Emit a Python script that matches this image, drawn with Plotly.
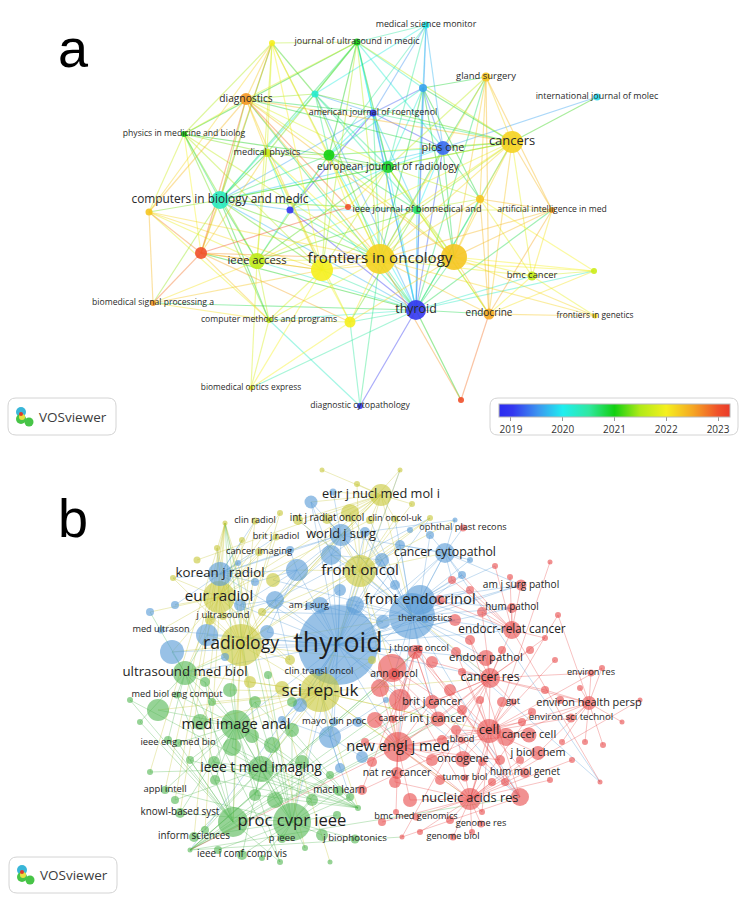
import plotly.graph_objects as go
from plotly.colors import sample_colorscale

W, H = 745, 910
FONT = "Open Sans"

# ---------------- panel a: overlay map, colour = average publication year ----------------
A_LABEL = ["medical science monitor", "", "journal of ultrasound in medic", "gland surgery", "", "",
           "diagnostics", "international journal of molec", "american journal of roentgenol",
           "physics in medicine and biolog", "cancers", "plos one", "medical physics", "",
           "european journal of radiology", "computers in biology and medic", "", "", "", "",
           "ieee journal of biomedical and", "artificial intelligence in med", "", "ieee access", "",
           "frontiers in oncology", "", "bmc cancer", "", "biomedical signal processing a", "thyroid",
           "endocrine", "frontiers in genetics", "computer methods and programs", "",
           "biomedical optics express", "diagnostic cytopathology", ""]
A_X = [426, 272, 357, 486, 315, 423, 246, 597, 373, 184, 512, 443, 267, 329, 388, 220, 480, 149, 290, 348,
       417, 552, 201, 257, 322, 380, 454, 532, 594, 153, 416, 489, 595, 269, 350, 251, 360, 461]
A_Y = [25, 43, 42, 77, 94, 88, 99, 97, 113, 134, 142, 148, 153, 155, 167, 200, 199, 212, 210, 207,
       210, 210, 253, 261, 270, 259, 257, 276, 271, 303, 310, 314, 316, 320, 322, 388, 406, 400]
A_W = [7, 6, 7, 9, 7, 8, 12, 7, 7, 6, 22, 14, 8, 11, 12, 18, 8, 7, 7, 6,
       8, 6, 12, 16, 22, 30, 26, 9, 6, 6, 20, 11, 5, 6, 11, 5, 6, 6]
A_YEAR = [2020.0, 2022.0, 2021.0, 2022.3, 2020.2, 2019.6, 2022.6, 2019.9, 2018.9, 2021.0,
          2022.2, 2019.3, 2021.7, 2021.0, 2020.9, 2020.3, 2022.3, 2022.3, 2019.0, 2023.0,
          2020.7, 2022.6, 2023.0, 2021.6, 2022.0, 2022.2, 2022.3, 2021.6, 2021.7, 2022.6,
          2019.0, 2022.5, 2022.2, 2021.6, 2022.0, 2022.0, 2019.0, 2023.0]
A_LINKS = [
    (30, [0, 2, 3, 4, 5, 6, 8, 10, 11, 12, 13, 14, 15, 16, 18, 20, 21, 22, 23, 24, 25, 26, 27, 28, 29,
          31, 33, 34, 35, 36, 37]),
    (25, [1, 2, 3, 4, 5, 6, 8, 9, 10, 11, 12, 13, 14, 15, 16, 17, 18, 20, 21, 22, 23, 24, 26, 27, 28,
          31, 32, 33, 34, 36, 37]),
    (26, [3, 5, 6, 10, 11, 13, 14, 16, 20, 21, 24, 27, 28, 31, 32, 34]),
    (10, [2, 3, 4, 5, 6, 7, 8, 11, 13, 14, 15, 16, 20, 21, 23, 24, 27, 31]),
    (24, [1, 2, 6, 9, 12, 13, 14, 15, 17, 22, 23, 29, 33, 34, 35]),
    (15, [1, 2, 4, 6, 8, 9, 11, 12, 13, 14, 17, 18, 19, 20, 22, 23, 29, 33]),
    (23, [1, 9, 12, 13, 14, 17, 18, 20, 22, 29, 33, 35]),
    (6, [1, 2, 4, 8, 9, 11, 12, 13, 14, 17, 19, 22]),
    (14, [0, 2, 3, 4, 5, 8, 11, 12, 13, 16, 18, 20]),
    (11, [0, 2, 3, 5, 7, 8, 13, 16, 20]),
    (2, [0, 1, 4, 5, 8, 9, 12, 13]),
    (22, [1, 9, 12, 17, 19, 29, 33]),
    (34, [12, 20, 22, 33, 35, 36]),
    (31, [3, 14, 16, 20, 21, 27, 28, 32, 37]),
    (27, [16, 21, 28, 32]),
    (0, [4, 5, 8, 13]),
    (3, [5, 16, 21]),
    (12, [1, 9, 13, 18]),
    (19, [13, 14]),
    (1, [4, 9, 13]),
    (36, [33]),
    (13, [4, 5, 8, 9, 18, 20]),
    (20, [4, 5, 8, 16, 18, 21]),
    (33, [9, 15, 17, 29, 35]),
    (17, [1, 9, 29]),
    (16, [5, 21, 28]),
    (8, [4, 5, 18]),
]
YEAR_TICKS = [2019, 2020, 2021, 2022, 2023]
YEAR_MIN, YEAR_MAX = 2018.77, 2023.23

# ---------------- panel b: cluster map ----------------
B_LABEL = ["thyroid", "radiology", "front oncol", "front endocrinol", "eur radiol", "korean j radiol",
           "world j surg", "eur j nucl med mol i", "cancer cytopathol", "sci rep-uk",
           "ultrasound med biol", "med image anal", "ieee t med imaging", "proc cvpr ieee",
           "new engl j med", "nucleic acids res", "cell", "cancer res", "endocr-relat cancer",
           "endocr pathol", "environ health persp", "int j cancer", "brit j cancer", "oncogene",
           "j biol chem", "cancer cell", "am j surg pathol", "hum pathol", "theranostics",
           "j thorac oncol", "ann oncol", "clin transl oncol", "mayo clin proc", "cancer", "blood",
           "nat rev cancer", "tumor biol", "hum mol genet", "bmc med genomics", "genome res",
           "genome biol", "gut", "environ sci technol", "environ res", "am j surg", "j ultrasound",
           "med ultrason", "med biol eng comput", "ieee eng med bio", "appl intell", "mach learn",
           "knowl-based syst", "inform sciences", "p ieee", "j biophotonics", "ieee i conf comp vis",
           "clin radiol", "int j radiat oncol", "clin oncol-uk", "ophthal plast recons",
           "brit j radiol", "cancer imaging"]
B_X = [338, 241, 360, 420, 219, 220, 341, 381, 445, 320, 185, 236, 261, 292, 398, 470, 489, 490, 512, 486,
       589, 438, 432, 463, 538, 529, 521, 512, 425, 419, 394, 319, 334, 393, 462, 397, 465, 525, 416, 481,
       453, 513, 571, 591, 309, 223, 161, 177, 178, 165, 339, 180, 194, 282, 355, 242, 255, 327, 395, 463,
       276, 259]
B_Y = [645, 645, 571, 600, 597, 574, 535, 495, 553, 692, 673, 725, 769, 822, 747, 799, 731, 678, 630, 658,
       703, 719, 702, 759, 753, 735, 585, 608, 619, 649, 674, 672, 722, 719, 740, 773, 778, 773, 817, 824,
       837, 702, 718, 673, 606, 616, 630, 695, 743, 790, 791, 813, 837, 839, 839, 855, 521, 519, 519, 528,
       537, 552]
B_W = [80, 42, 32, 30, 32, 24, 22, 22, 20, 40, 24, 30, 26, 38, 30, 22, 24, 20, 18, 16,
       14, 15, 14, 16, 14, 15, 11, 10, 8, 8, 12, 8, 8, 8, 7, 12, 7, 10, 7, 7,
       7, 7, 9, 7, 8, 8, 7, 7, 8, 8, 10, 10, 10, 8, 9, 10, 7, 10, 7, 7,
       7, 8]
B_CLUSTER = list("BYYBYBBYBY" "GGGGRRRRRR" "RRRRRRRRBR" "RBBRRRRRRR" "RRRRBYBGGG" "GGGGGGYYYR" "YY")

# unlabelled journals of each cluster
BLUE_X = [297, 331, 275, 267, 207, 172, 311, 333, 365, 382, 400, 290, 255, 240, 320, 355, 383, 300, 358, 340,
          362, 330, 395, 340, 462, 470, 238, 175, 150, 225, 386, 430, 282, 455, 410, 412]
BLUE_Y = [570, 555, 600, 632, 635, 652, 502, 492, 532, 560, 545, 550, 582, 605, 605, 605, 622, 705, 722, 768,
          757, 737, 585, 590, 575, 560, 563, 605, 612, 657, 700, 535, 720, 520, 530, 616]
BLUE_W = [22, 20, 18, 14, 22, 24, 13, 7, 10, 14, 10, 8, 8, 12, 16, 18, 14, 14, 10, 10,
          12, 22, 10, 12, 8, 6, 6, 8, 8, 8, 6, 8, 8, 5, 6, 46]
YELLOW_X = [350, 357, 412, 430, 273, 280, 242, 217, 173, 197, 322, 400, 250, 282, 372, 290, 210, 262, 298, 370,
            225]
YELLOW_Y = [513, 484, 504, 518, 580, 513, 540, 548, 578, 560, 470, 470, 682, 688, 660, 660, 620, 612, 520, 520,
            523]
YELLOW_W = [18, 6, 6, 6, 14, 6, 6, 6, 6, 7, 5, 5, 12, 14, 8, 10, 10, 8, 10, 8, 5]
GREEN_X = [233, 158, 200, 230, 255, 272, 292, 302, 312, 275, 255, 215, 190, 168, 140, 130, 150, 175, 205, 218,
           262, 322, 337, 350, 330, 305, 280, 205, 212, 292, 268, 358, 232, 214, 252, 330, 190]
GREEN_Y = [822, 710, 722, 690, 702, 745, 730, 762, 800, 800, 795, 780, 760, 740, 722, 700, 772, 800, 830, 850,
           858, 835, 815, 797, 775, 848, 862, 682, 702, 702, 675, 808, 747, 762, 736, 862, 850]
GREEN_W = [30, 22, 16, 14, 12, 16, 14, 14, 12, 16, 12, 10, 8, 8, 6, 6, 6, 8, 8, 8,
           6, 12, 8, 8, 8, 6, 6, 10, 8, 10, 8, 6, 18, 12, 14, 5, 5]
RED_X = [392, 520, 415, 400, 380, 375, 395, 410, 440, 432, 362, 450, 462, 470, 455, 440, 470, 482, 502, 530,
         545, 558, 560, 580, 602, 545, 555, 532, 520, 550, 572, 450, 472, 482, 505, 500, 442, 462, 506, 562,
         585, 603, 622, 640, 600, 452, 495, 510, 550, 382, 420, 402, 432, 456, 480, 502, 522, 456, 482, 492,
         396, 365, 372]
RED_Y = [668, 797, 652, 700, 688, 720, 782, 800, 780, 760, 790, 690, 710, 640, 620, 600, 590, 612, 650, 650,
         638, 615, 700, 688, 668, 690, 660, 712, 760, 780, 760, 820, 832, 812, 782, 760, 740, 672, 737, 742,
         742, 745, 722, 700, 782, 580, 566, 577, 562, 822, 832, 837, 662, 652, 700, 702, 722, 730, 762, 782,
         812, 742, 762]
RED_W = [28, 18, 14, 22, 18, 16, 12, 14, 10, 12, 10, 12, 10, 10, 12, 10, 8, 10, 8, 8,
         6, 6, 8, 6, 6, 8, 6, 8, 8, 6, 6, 8, 6, 6, 8, 10, 10, 8, 18, 6,
         6, 6, 5, 5, 5, 8, 6, 6, 5, 8, 6, 5, 12, 10, 8, 10, 8, 10, 8, 8,
         6, 8, 10]

# links: (journal index, linked journal indices); indices run over labelled, blue, yellow, green, red
# index 96 stands for the large blue journal drawn behind "front endocrinol"
B_LINKS = [
    (0, [1, 2, 3, 4, 5, 6, 8, 9, 10, 11, 12, 13, 14, 17, 18, 19, 21, 26, 27, 28, 31, 32, 44, 46, 62, 63, 64,
         65, 66, 67, 68, 70, 71, 76, 77, 78, 79, 83, 85, 97, 101, 109, 155, 157, 158, 159, 170, 96]),
    (96, [2, 8, 17, 18, 19, 26, 27, 28, 29, 71, 72, 84, 86, 157, 169, 170, 171, 172, 200, 21, 30, 14, 9]),
    (3, [8, 18, 26, 27, 28, 86, 87, 93, 171, 172, 201, 202]),
    (1, [2, 4, 5, 6, 7, 9, 10, 11, 12, 45, 56, 60, 61, 64, 66, 67, 75, 97, 101, 103, 104, 105, 106, 109, 110,
         112, 113, 114, 115, 119, 121, 122]),
    (2, [6, 7, 8, 9, 14, 17, 30, 57, 58, 62, 63, 70, 71, 72, 95, 97, 98, 99, 100, 101, 115, 116]),
    (4, [5, 7, 9, 10, 45, 46, 56, 60, 61, 66, 67, 88, 89, 90, 103, 104, 105, 106, 113, 117]),
    (9, [10, 11, 12, 13, 14, 15, 16, 17, 21, 31, 32, 79, 83, 94, 109, 110, 112, 120, 121, 122, 123, 124, 147,
         148, 150]),
    (13, [11, 12, 49, 50, 51, 52, 53, 54, 55, 118, 123, 125, 126, 127, 128, 138, 139, 140, 141, 142, 143, 144,
          149, 153]),
    (11, [10, 12, 47, 48, 49, 51, 118, 119, 120, 121, 122, 123, 124, 129, 130, 131, 145, 146, 150, 151, 152]),
    (12, [50, 52, 55, 118, 125, 126, 127, 128, 129, 134, 135, 136, 137, 150, 151, 152]),
    (14, [15, 16, 17, 21, 22, 23, 25, 30, 33, 35, 155, 158, 159, 160, 161, 162, 163, 164, 165, 191, 212, 216, 217]),
    (16, [15, 17, 20, 23, 24, 25, 37, 41, 42, 156, 166, 167, 177, 180, 182, 183, 189, 190, 193, 209, 210, 211, 213]),
    (15, [24, 37, 38, 39, 40, 156, 161, 162, 163, 183, 184, 185, 186, 187, 188, 189, 199, 204, 205, 206, 213,
          214, 215]),
    (17, [18, 19, 20, 21, 22, 23, 33, 41, 43, 168, 169, 173, 174, 175, 176, 181, 192, 193, 207, 208]),
    (20, [24, 42, 43, 177, 178, 179, 180, 181, 194, 195, 196, 197, 198]),
    (7, [6, 57, 58, 68, 69, 97, 98, 99, 100, 102, 107, 108, 115, 116, 117]),
    (5, [6, 56, 60, 61, 62, 73, 74, 88, 89, 104, 105, 106]),
    (6, [8, 57, 62, 63, 68, 69, 73, 95, 97, 115]),
    (8, [26, 59, 72, 86, 87, 93, 94, 95, 200, 201]),
    (10, [47, 66, 67, 90, 91, 119, 132, 133, 145, 146]),
    (18, [26, 27, 86, 171, 172, 173, 176, 200, 201, 202, 203]),
    (155, [21, 22, 29, 30, 33, 157, 158, 159, 168, 207]),
    (83, [31, 32, 79, 80, 81, 82, 92, 94, 142]),
    (118, [49, 51, 52, 135, 136, 137, 144, 154]),
    (62, [64, 65, 73, 74, 75]),
    (64, [44, 75, 101, 113, 114]),
    (76, [44, 77, 78, 85]),
    (77, [28, 78, 84, 157]),
    (119, [47, 48, 130, 131, 132, 133, 134, 145, 146]),
    (150, [123, 124, 125, 129, 130, 131, 151, 152]),
    (63, [6, 68, 70, 71, 97, 115]),
    (71, [2, 70, 72, 77, 84]),
    (158, [21, 22, 33, 159, 160, 166, 167, 191]),
    (157, [29, 30, 168, 169, 207]),
    (97, [57, 58, 98, 102, 115, 116, 117]),
]

CLUSTER_COLORS = {"B": (88, 155, 214), "Y": (200, 200, 58), "G": (84, 184, 84), "R": (232, 76, 76)}

CSCALE = [[0.0, "rgb(43,43,240)"], [0.06, "rgb(52,56,240)"], [0.17, "rgb(60,150,240)"],
          [0.276, "rgb(31,238,240)"], [0.39, "rgb(48,232,160)"], [0.5, "rgb(18,208,18)"],
          [0.61, "rgb(176,234,24)"], [0.724, "rgb(245,240,30)"], [0.84, "rgb(245,166,35)"],
          [0.948, "rgb(240,80,42)"], [1.0, "rgb(234,58,42)"]]


def rgba(rgb, a):
    if isinstance(rgb, str):
        return rgb.replace("rgb(", "rgba(").replace(")", f",{a})")
    return f"rgba({rgb[0]},{rgb[1]},{rgb[2]},{a})"


def rrect(x0, y0, x1, y1, r):
    return (f"M{x0 + r},{y0} L{x1 - r},{y0} Q{x1},{y0} {x1},{y0 + r} L{x1},{y1 - r} Q{x1},{y1} {x1 - r},{y1} "
            f"L{x0 + r},{y1} Q{x0},{y1} {x0},{y1 - r} L{x0},{y0 + r} Q{x0},{y0} {x0 + r},{y0} Z")


fig = go.Figure()

# ---- panel a links, coloured by mean year of the two journals
seen = set()
groups = {}
for hub, targets in A_LINKS:
    for t in targets:
        key = tuple(sorted((hub, t)))
        if key in seen or hub == t:
            continue
        seen.add(key)
        yr = round((A_YEAR[key[0]] + A_YEAR[key[1]]) / 2, 1)
        groups.setdefault(yr, []).append(key)
for yr, pairs in sorted(groups.items()):
    xs, ys = [], []
    for i, j in pairs:
        xs += [A_X[i], A_X[j], None]
        ys += [A_Y[i], A_Y[j], None]
    col = sample_colorscale(CSCALE, [(yr - YEAR_MIN) / (YEAR_MAX - YEAR_MIN)])[0]
    fig.add_trace(go.Scatter(x=xs, y=ys, mode="lines", line=dict(color=rgba(col, 0.42), width=1.2),
                             hoverinfo="skip"))

order = sorted(range(len(A_X)), key=lambda i: -A_W[i])
fig.add_trace(go.Scatter(
    x=[A_X[i] for i in order], y=[A_Y[i] for i in order], mode="markers", hoverinfo="skip",
    marker=dict(size=[A_W[i] for i in order], color=[A_YEAR[i] for i in order], coloraxis="coloraxis",
                opacity=0.9, line=dict(width=0))))
lab = [i for i in range(len(A_X)) if A_LABEL[i]]
fig.add_trace(go.Scatter(
    x=[A_X[i] for i in lab], y=[A_Y[i] for i in lab], mode="text", text=[A_LABEL[i] for i in lab],
    textposition="middle center", hoverinfo="skip",
    textfont=dict(family=FONT, color="#2a2a2a", size=[7 + 0.27 * A_W[i] for i in lab])))

# ---- panel b
NX = B_X + BLUE_X + YELLOW_X + GREEN_X + RED_X
NY = B_Y + BLUE_Y + YELLOW_Y + GREEN_Y + RED_Y
NW = B_W + BLUE_W + YELLOW_W + GREEN_W + RED_W
NC = B_CLUSTER + ["B"] * len(BLUE_X) + ["Y"] * len(YELLOW_X) + ["G"] * len(GREEN_X) + ["R"] * len(RED_X)
BIG_BLUE = len(B_X) + len(BLUE_X) - 1

seen = set()
bgroups = {c: ([], []) for c in CLUSTER_COLORS}
for hub, targets in B_LINKS:
    h = BIG_BLUE if hub == 96 else hub
    for t in targets:
        t2 = BIG_BLUE if t == 96 else t
        key = tuple(sorted((h, t2)))
        if key in seen or h == t2:
            continue
        seen.add(key)
        xs, ys = bgroups[NC[h]]
        xs += [NX[h], NX[t2], None]
        ys += [NY[h], NY[t2], None]
for c, (xs, ys) in bgroups.items():
    fig.add_trace(go.Scatter(x=xs, y=ys, mode="lines", line=dict(color=rgba(CLUSTER_COLORS[c], 0.34), width=1.0),
                             hoverinfo="skip"))

order = sorted(range(len(NX)), key=lambda i: -NW[i])
fig.add_trace(go.Scatter(
    x=[NX[i] for i in order], y=[NY[i] for i in order], mode="markers", hoverinfo="skip",
    marker=dict(size=[NW[i] for i in order], color=[rgba(CLUSTER_COLORS[NC[i]], 0.88) for i in order],
                line=dict(width=0))))
fig.add_trace(go.Scatter(
    x=B_X, y=B_Y, mode="text", text=B_LABEL, textposition="middle center", hoverinfo="skip",
    textfont=dict(family=FONT, color="#1e1e1e", size=[7.5 + 0.24 * w for w in B_W])))

# ---- boxes, logos, panel letters
shapes = []
for (x0, y0, x1, y1) in [(8, 398, 116, 435), (490, 398, 738, 435), (9, 857, 117, 893)]:
    shapes.append(dict(type="path", path=rrect(x0, y0, x1, y1, 8), xref="x", yref="y",
                       line=dict(color="#d4d4d4", width=1), fillcolor="white", layer="above"))
for (ix, iy) in [(16, 406), (17, 864)]:
    for dx, dy, r, col in [(5, 6, 5, "#39b6d8"), (5, 13, 5, "#47c447"), (13, 16, 4.5, "#47c447"),
                           (6, 11, 3, "#e6e040"), (5, 8, 2, "#e03a2a")]:
        shapes.append(dict(type="circle", xref="x", yref="y", x0=ix + dx - r, x1=ix + dx + r,
                           y0=iy + dy - r, y1=iy + dy + r, line=dict(width=0), fillcolor=col, layer="above"))

annotations = [
    dict(x=73, y=48, text="a", showarrow=False, xref="x", yref="y",
         font=dict(family="Liberation Sans", size=54, color="black")),
    dict(x=73, y=518, text="b", showarrow=False, xref="x", yref="y",
         font=dict(family="Liberation Sans", size=54, color="black")),
    dict(x=73, y=417, text="VOSviewer", showarrow=False, xref="x", yref="y",
         font=dict(family=FONT, size=13.5, color="#3c3c3c")),
    dict(x=74, y=875, text="VOSviewer", showarrow=False, xref="x", yref="y",
         font=dict(family=FONT, size=13.5, color="#3c3c3c")),
]

fig.update_layout(
    width=W, height=H, margin=dict(l=0, r=0, t=0, b=0), showlegend=False,
    paper_bgcolor="white", plot_bgcolor="white",
    xaxis=dict(range=[0, W], visible=False, fixedrange=True),
    yaxis=dict(range=[H, 0], visible=False, fixedrange=True),
    shapes=shapes, annotations=annotations,
    coloraxis=dict(colorscale=CSCALE, cmin=YEAR_MIN, cmax=YEAR_MAX,
                   colorbar=dict(orientation="h", x=(499 + 730) / 2 / W, xanchor="center",
                                 y=1 - 404 / H, yanchor="top", len=231 / W, lenmode="fraction",
                                 thickness=13, thicknessmode="pixels", xpad=0, ypad=0,
                                 outlinewidth=1, outlinecolor="#b8b8b8",
                                 tickvals=YEAR_TICKS, ticks="outside", ticklen=4, tickcolor="#999999",
                                 tickfont=dict(family=FONT, size=10, color="#333333"))),
)

fig.write_html("out.html", config={"displayModeBar": False},
               post_script="document.body.style.margin='0';")
